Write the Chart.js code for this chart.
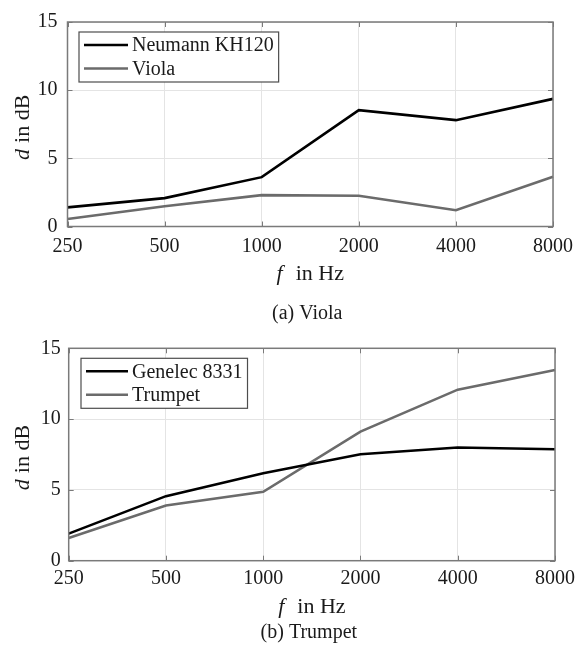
<!DOCTYPE html>
<html>
<head>
<meta charset="utf-8">
<script src="https://cdn.jsdelivr.net/npm/chart.js@4.4.1/dist/chart.umd.min.js"></script>
<style>
  body { margin: 0; background: #fff; }
  .panel { position: relative; width: 581px; height: 325px; }
</style>
</head>
<body>
<div class="panel"><canvas id="violaChart" width="581" height="325"></canvas></div>
<div class="panel"><canvas id="trumpetChart" width="581" height="325"></canvas></div>
<script>
// frequency bands (Hz) on the x axis
const freqLabels = ['250', '500', '1000', '2000', '4000', '8000'];
const yTicks = [0, 5, 10, 15];

// (a) viola
const neumannKH120 = [1.40, 2.08, 3.62, 8.53, 7.80, 9.36];
const violaSource = [0.55, 1.49, 2.30, 2.25, 1.19, 3.65];

// (b) trumpet
const genelec8331 = [1.91, 4.56, 6.17, 7.52, 7.99, 7.87];
const trumpetSource = [1.60, 3.90, 4.87, 9.12, 12.08, 13.47];

const SERIF = '"Liberation Serif", "DejaVu Serif", serif';
const TEXT = '#1a1a1a';

function drawParts(ctx, parts, cx, cy, size) {
  const widths = parts.map(p => {
    ctx.font = (p.italic ? 'italic ' : '') + size + 'px ' + SERIF;
    return ctx.measureText(p.text).width + (p.gap || 0);
  });
  let x = cx - widths.reduce((a, b) => a + b, 0) / 2;
  parts.forEach((p, i) => {
    ctx.font = (p.italic ? 'italic ' : '') + size + 'px ' + SERIF;
    ctx.fillText(p.text, x + (p.gap || 0), cy);
    x += widths[i];
  });
}

const matlabFrame = {
  id: 'matlabFrame',
  afterDatasetsDraw(chart, args, opts) {
    const { ctx, chartArea: a, scales: { x, y } } = chart;
    ctx.save();
    // inward tick marks on all four sides
    ctx.strokeStyle = '#7a7a7a';
    ctx.lineWidth = 1;
    ctx.beginPath();
    x.ticks.forEach((t, i) => {
      const px = Math.round(x.getPixelForTick(i)) + 0.5;
      ctx.moveTo(px, a.bottom); ctx.lineTo(px, a.bottom - 5);
      ctx.moveTo(px, a.top); ctx.lineTo(px, a.top + 5);
    });
    y.ticks.forEach((t, i) => {
      const py = Math.round(y.getPixelForTick(i)) + 0.5;
      ctx.moveTo(a.left, py); ctx.lineTo(a.left + 5, py);
      ctx.moveTo(a.right, py); ctx.lineTo(a.right - 5, py);
    });
    ctx.stroke();
    ctx.lineWidth = 1.5;
    ctx.strokeRect(a.left, a.top, a.width, a.height);

    // legend box in the upper left corner
    ctx.font = '20px ' + SERIF;
    const sets = chart.data.datasets;
    const textW = Math.max(...sets.map(d => ctx.measureText(d.label).width));
    const bx = a.left + opts.legendX, by = a.top + opts.legendY;
    const bw = 5 + opts.legendLine + 4 + textW + 5, bh = 50;
    ctx.fillStyle = '#fff';
    ctx.fillRect(bx, by, bw, bh);
    ctx.strokeStyle = '#4d4d4d';
    ctx.lineWidth = 1.2;
    ctx.strokeRect(bx, by, bw, bh);
    sets.forEach((d, i) => {
      const ry = by + 13 + i * 23.5;
      ctx.strokeStyle = d.borderColor;
      ctx.lineWidth = d.borderWidth;
      ctx.beginPath();
      ctx.moveTo(bx + 5, ry); ctx.lineTo(bx + 5 + opts.legendLine, ry);
      ctx.stroke();
      ctx.fillStyle = TEXT;
      ctx.textBaseline = 'middle';
      ctx.fillText(d.label, bx + 9 + opts.legendLine, ry + 1);
    });
    ctx.restore();
  },
  afterDraw(chart, args, opts) {
    const { ctx, chartArea: a } = chart;
    ctx.save();
    ctx.fillStyle = TEXT;
    ctx.textBaseline = 'alphabetic';
    const cx = (a.left + a.right) / 2;
    drawParts(ctx, [{ text: 'f', italic: true }, { text: 'in Hz', gap: 13 }], cx, opts.xTitleY, 22);
    ctx.translate(28.5, (a.top + a.bottom) / 2 + 3);
    ctx.rotate(-Math.PI / 2);
    drawParts(ctx, [{ text: 'd', italic: true }, { text: 'in dB', gap: 6 }], 0, 0, 22);
    ctx.restore();
    ctx.save();
    ctx.fillStyle = TEXT;
    ctx.font = '20px ' + SERIF;
    ctx.textAlign = 'center';
    ctx.fillText(opts.caption, cx - 3, opts.captionY);
    ctx.restore();
  }
};

function makeChart(id, labels, refSet, srcSet, box) {
  return new Chart(document.getElementById(id), {
    type: 'line',
    data: {
      labels: freqLabels,
      datasets: [
        { label: labels[0], data: refSet, borderColor: '#000', borderWidth: 2.6 },
        { label: labels[1], data: srcSet, borderColor: '#6b6b6b', borderWidth: 2.6 }
      ]
    },
    options: {
      responsive: false,
      animation: false,
      events: [],
      elements: { point: { radius: 0 }, line: { tension: 0 } },
      layout: { padding: { top: box.top, right: 581 - box.right, bottom: 0, left: 0 } },
      scales: {
        x: {
          offset: false,
          grid: { color: '#e4e4e4', lineWidth: 1, drawTicks: false },
          border: { display: false },
          ticks: { font: { family: SERIF, size: 20 }, color: TEXT, padding: box.xPad, maxRotation: 0, autoSkip: false },
          afterFit(scale) { scale.height = 325 - box.bottom; }
        },
        y: {
          min: 0,
          max: 15,
          afterBuildTicks(scale) { scale.ticks = yTicks.map(v => ({ value: v })); },
          grid: { color: '#e4e4e4', lineWidth: 1, drawTicks: false },
          border: { display: false },
          ticks: { font: { family: SERIF, size: 20 }, color: TEXT, padding: box.yPad },
          afterFit(scale) { scale.width = box.left; }
        }
      },
      plugins: {
        legend: { display: false },
        tooltip: { enabled: false },
        matlabFrame: {
          legendX: box.legendX, legendY: 10, legendLine: box.legendLine,
          xTitleY: box.xTitleY, captionY: box.captionY, caption: box.caption
        }
      }
    },
    plugins: [matlabFrame]
  });
}

makeChart('violaChart', ['Neumann KH120', 'Viola'], neumannKH120, violaSource, {
  left: 67.5, right: 558.5, top: 14.3, bottom: 226.5, xPad: 8, yPad: 10,
  legendX: 11.5, legendLine: 44, xTitleY: 280, captionY: 319, caption: '(a) Viola'
});

makeChart('trumpetChart', ['Genelec 8331', 'Trumpet'], genelec8331, trumpetSource, {
  left: 68.7, right: 559.4, top: 23.3, bottom: 235.7, xPad: 6, yPad: 8,
  legendX: 12.3, legendLine: 42, xTitleY: 288, captionY: 313, caption: '(b) Trumpet'
});
</script>
</body>
</html>
